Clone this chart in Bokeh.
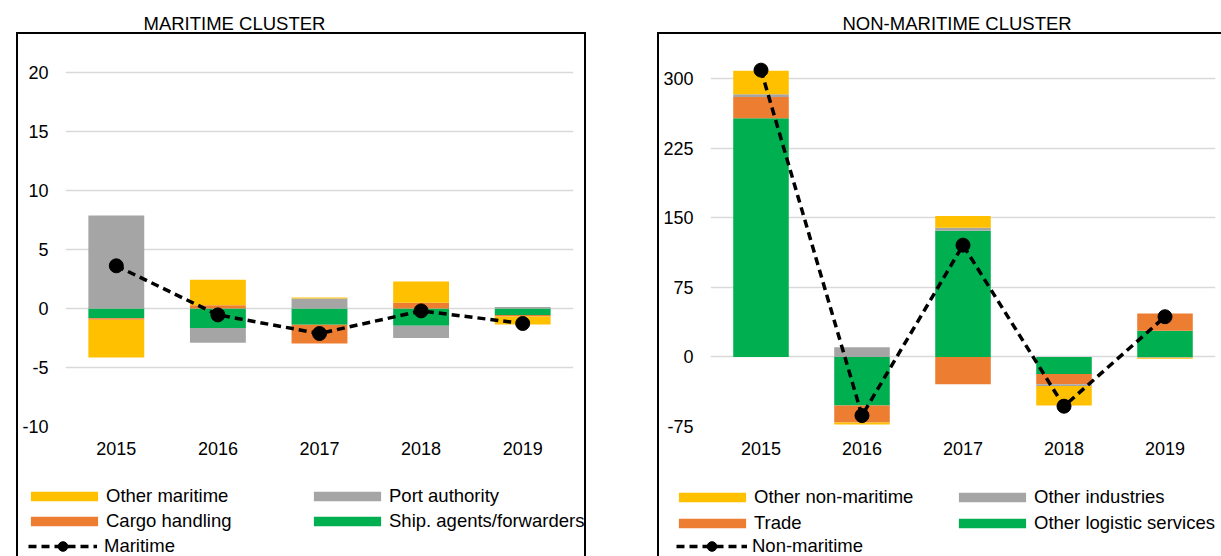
import numpy as np
from bokeh.plotting import figure
from bokeh.models import Range1d, FactorRange, Legend, LegendItem, FixedTicker
from bokeh.layouts import row, column
from bokeh.embed import file_html
from bokeh.resources import INLINE

years = ["2015", "2016", "2017", "2018", "2019"]

# ---- Maritime cluster (stack order: bottom-most first) ----
ship_agents = [-0.82, -1.64, -1.38, -1.47, -0.54]
cargo_handling = [-0.14, 0.28, -1.59, 0.48, -0.14]
port_authority = [7.88, -1.27, 0.85, -1.02, 0.14]
other_maritime = [-3.19, 2.15, 0.09, 1.81, -0.68]
maritime_total = [3.62, -0.54, -2.12, -0.20, -1.27]
maritime_names = ["Ship. agents/forwarders", "Cargo handling", "Port authority", "Other maritime"]
maritime_ticks = [-10, -5, 0, 5, 10, 15, 20]

# ---- Non-maritime cluster ----
other_logistic = [257.4, -52.4, 136.1, -18.3, 28.3]
trade = [23.1, -18.3, -29.4, -11.1, 18.7]
other_industries = [2.9, 10.4, 3.3, -1.8, -0.8]
other_non_maritime = [25.3, -2.1, 12.6, -21.2, -1.0]
non_maritime_total = [309.4, -63.2, 120.6, -53.1, 43.4]
non_maritime_names = ["Other logistic services", "Trade", "Other industries", "Other non-maritime"]
non_maritime_ticks = [-75, 0, 75, 150, 225, 300]

colors = ["#00B050", "#ED7D31", "#A5A5A5", "#FFC000"]
FONT = "Liberation Sans"
LINE = "linear-gradient(#000,#000) %dpx %dpx/%dpx %dpx no-repeat"


def stack(series_list):
    n = len(years)
    pos = np.zeros(n)
    neg = np.zeros(n)
    out = []
    for s in series_list:
        v = np.asarray(s, dtype=float)
        bottom = np.where(v >= 0, pos, neg + v)
        top = np.where(v >= 0, pos + v, neg)
        pos = pos + np.where(v >= 0, v, 0.0)
        neg = neg + np.where(v < 0, v, 0.0)
        out.append((bottom, top))
    return out


def draw_series(p, series, total):
    rends = []
    for (bottom, top), c in zip(stack(series), colors):
        rends.append(p.vbar(x=years, bottom=bottom, top=top, width=0.55,
                            fill_color=c, line_color=None))
    rl = p.line(x=years, y=total, line_color="black", line_width=3.5, line_dash="8 5")
    rs = p.scatter(x=years, y=total, size=14, marker="circle",
                   fill_color="black", line_color="black")
    return rends, rl, rs


def make_chart(series, total, title, yr, ticks, width, mbl, mbr,
               title_offset, bg):
    p = figure(x_range=FactorRange(factors=years, range_padding=0),
               y_range=Range1d(*yr), width=width, height=470,
               output_backend="svg", toolbar_location=None, frame_align=False,
               min_border_left=mbl, min_border_right=mbr, min_border_top=42,
               min_border_bottom=44, styles={"background": bg})
    p.title.text = title
    p.title.align = "left"
    p.title.offset = title_offset
    p.title.standoff = 17
    p.title.text_font = FONT
    p.title.text_font_size = "18.5px"
    p.title.text_font_style = "normal"
    p.title.text_color = "black"
    p.background_fill_alpha = 0
    p.border_fill_alpha = 0
    p.outline_line_color = None
    p.xgrid.grid_line_color = None
    p.ygrid.grid_line_color = "#D9D9D9"
    p.ygrid.grid_line_width = 1.5
    p.yaxis.ticker = FixedTicker(ticks=ticks)
    p.yaxis.major_label_overrides = {t: str(t) for t in ticks}
    for ax in (p.xaxis[0], p.yaxis[0]):
        ax.axis_line_color = None
        ax.major_tick_line_color = None
        ax.minor_tick_line_color = None
        ax.major_tick_out = 0
        ax.major_tick_in = 0
        ax.minor_tick_out = 0
        ax.major_label_text_font = FONT
        ax.major_label_text_font_size = "18px"
        ax.major_label_text_color = "black"
    p.xaxis.major_label_standoff = 15
    p.yaxis.major_label_standoff = 17
    draw_series(p, series, total)
    return p


def make_legend(series, total, names, total_name, width, spacing, loc1, loc2,
                line_w, line_loc, line_standoff, bg):
    # legend-only canvas: the same series are drawn on a y range that hides them
    q = figure(x_range=FactorRange(factors=years, range_padding=0),
               y_range=Range1d(5000, 5001), width=width, height=86,
               output_backend="svg", toolbar_location=None, frame_align=False,
               x_axis_type=None, y_axis_type=None,
               min_border_left=0, min_border_right=0, min_border_top=0,
               min_border_bottom=0, styles={"background": bg})
    q.background_fill_alpha = 0
    q.border_fill_alpha = 0
    q.outline_line_color = None
    q.xgrid.visible = False
    q.ygrid.visible = False
    rends, rl, rs = draw_series(q, series, total)
    common = dict(padding=0, margin=0, border_line_color=None, background_fill_alpha=0,
                  label_text_font=FONT, label_text_font_size="18.5px",
                  label_text_color="black")
    bars = dict(glyph_width=84, glyph_height=12, label_height=22,
                label_standoff=-2, spacing=spacing)
    leg1 = Legend(items=[LegendItem(label=names[3], renderers=[rends[3]]),
                         LegendItem(label=names[1], renderers=[rends[1]])],
                  location=loc1, **bars, **common)
    leg2 = Legend(items=[LegendItem(label=names[2], renderers=[rends[2]]),
                         LegendItem(label=names[0], renderers=[rends[0]])],
                  location=loc2, **bars, **common)
    leg3 = Legend(items=[LegendItem(label=total_name, renderers=[rl, rs])],
                  location=line_loc, glyph_width=line_w, glyph_height=24,
                  label_height=24, label_standoff=line_standoff, **common)
    q.add_layout(leg1)
    q.add_layout(leg2)
    q.add_layout(leg3)
    return q


bg1 = ", ".join([LINE % (16, 32, 570, 2), LINE % (16, 32, 2, 438), LINE % (584, 32, 2, 438)])
bg2 = ", ".join([LINE % (17, 32, 564, 2), LINE % (17, 32, 2, 438)])
bgl1 = ", ".join([LINE % (16, 0, 2, 86), LINE % (584, 0, 2, 86)])
bgl2 = LINE % (17, 0, 2, 86)

mar_series = [ship_agents, cargo_handling, port_authority, other_maritime]
non_series = [other_logistic, trade, other_industries, other_non_maritime]

p1 = make_chart(mar_series, maritime_total, "MARITIME CLUSTER", (-10, 22.55),
                maritime_ticks, 640, 65, 67, 78, bg1)
p2 = make_chart(non_series, non_maritime_total, "NON-MARITIME CLUSTER", (-75, 339.2),
                non_maritime_ticks, 581, 70, 6, 132, bg2)
l1 = make_legend(mar_series, maritime_total, maritime_names, "Maritime", 640, 3,
                 (22, 24), (305, 24), 69, (28, -2), 7, bgl1)
l2 = make_legend(non_series, non_maritime_total, non_maritime_names, "Non-maritime", 581, 4,
                 (30, 22), (310, 22), 71, (36, -2), 5, bgl2)

layout = row(column(p1, l1), column(p2, l2))

open("out.html", "w").write(file_html(layout, INLINE))
